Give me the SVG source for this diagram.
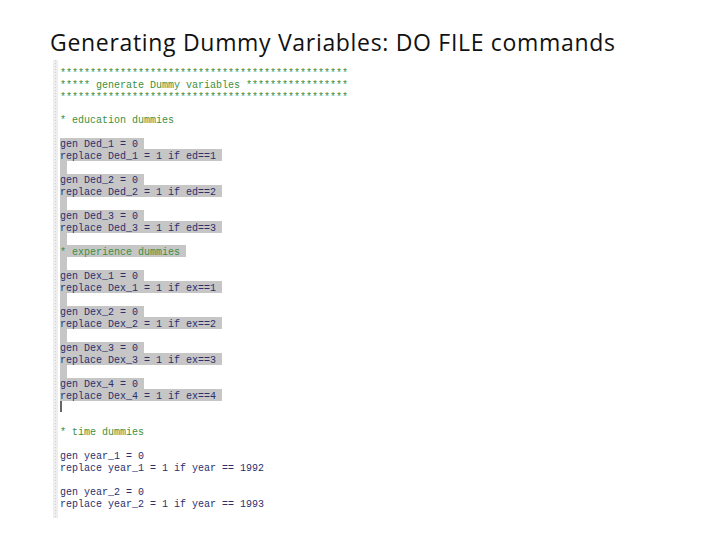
<svg xmlns="http://www.w3.org/2000/svg" width="720" height="540" viewBox="0 0 720 540">
<style>
.t{font-family:"Liberation Mono",monospace;font-size:10px;white-space:pre}
.c{fill:#3d8f3d}.k{fill:#2b2f6e}
.h{fill:#c6c6c6}
</style>
<rect width="720" height="540" fill="#fff"/>
<text x="50" y="51" font-family="'Open Sans','Liberation Sans',sans-serif" font-size="23" fill="#111" textLength="565">Generating Dummy Variables: DO FILE commands</text>
<rect x="53" y="60" width="5" height="458" fill="#eeeeee"/>
<line x1="55.5" y1="60" x2="55.5" y2="518" stroke="#d0d0d0" stroke-dasharray="1,2"/>
<g class="h">
<rect x="60" y="138" width="84" height="11"/><rect x="60" y="149" width="162" height="12"/>
<rect x="60" y="161" width="7" height="13"/>
<rect x="60" y="174" width="84" height="11"/><rect x="60" y="185" width="162" height="12"/>
<rect x="60" y="197" width="7" height="13"/>
<rect x="60" y="210" width="84" height="11"/><rect x="60" y="221" width="162" height="12"/>
<rect x="60" y="233" width="7" height="12"/>
<rect x="60" y="245" width="126" height="12"/>
<rect x="60" y="257" width="7" height="13"/>
<rect x="60" y="270" width="84" height="11"/><rect x="60" y="281" width="162" height="12"/>
<rect x="60" y="293" width="7" height="13"/>
<rect x="60" y="306" width="84" height="11"/><rect x="60" y="317" width="162" height="12"/>
<rect x="60" y="329" width="7" height="13"/>
<rect x="60" y="342" width="84" height="11"/><rect x="60" y="353" width="162" height="12"/>
<rect x="60" y="365" width="7" height="13"/>
<rect x="60" y="378" width="84" height="11"/><rect x="60" y="389" width="162" height="12"/>
</g>
<line x1="61" y1="401" x2="61" y2="412" stroke="#000" stroke-width="1.2"/>
<g class="t">
<text class="c" x="60" y="76">************************************************</text>
<text class="c" x="60" y="88">***** generate Dummy variables *****************</text>
<text class="c" x="60" y="100">************************************************</text>
<text class="c" x="60" y="123">* education dummies</text>
<text class="k" x="60" y="147">gen Ded_1 = 0</text>
<text class="k" x="60" y="159">replace Ded_1 = 1 if ed==1</text>
<text class="k" x="60" y="183">gen Ded_2 = 0</text>
<text class="k" x="60" y="195">replace Ded_2 = 1 if ed==2</text>
<text class="k" x="60" y="219">gen Ded_3 = 0</text>
<text class="k" x="60" y="231">replace Ded_3 = 1 if ed==3</text>
<text class="c" x="60" y="255">* experience dummies</text>
<text class="k" x="60" y="279">gen Dex_1 = 0</text>
<text class="k" x="60" y="291">replace Dex_1 = 1 if ex==1</text>
<text class="k" x="60" y="315">gen Dex_2 = 0</text>
<text class="k" x="60" y="327">replace Dex_2 = 1 if ex==2</text>
<text class="k" x="60" y="351">gen Dex_3 = 0</text>
<text class="k" x="60" y="363">replace Dex_3 = 1 if ex==3</text>
<text class="k" x="60" y="387">gen Dex_4 = 0</text>
<text class="k" x="60" y="399">replace Dex_4 = 1 if ex==4</text>
<text class="c" x="60" y="435">* time dummies</text>
<text class="k" x="60" y="459">gen year_1 = 0</text>
<text class="k" x="60" y="471">replace year_1 = 1 if year == 1992</text>
<text class="k" x="60" y="495">gen year_2 = 0</text>
<text class="k" x="60" y="507">replace year_2 = 1 if year == 1993</text>
</g>
</svg>
